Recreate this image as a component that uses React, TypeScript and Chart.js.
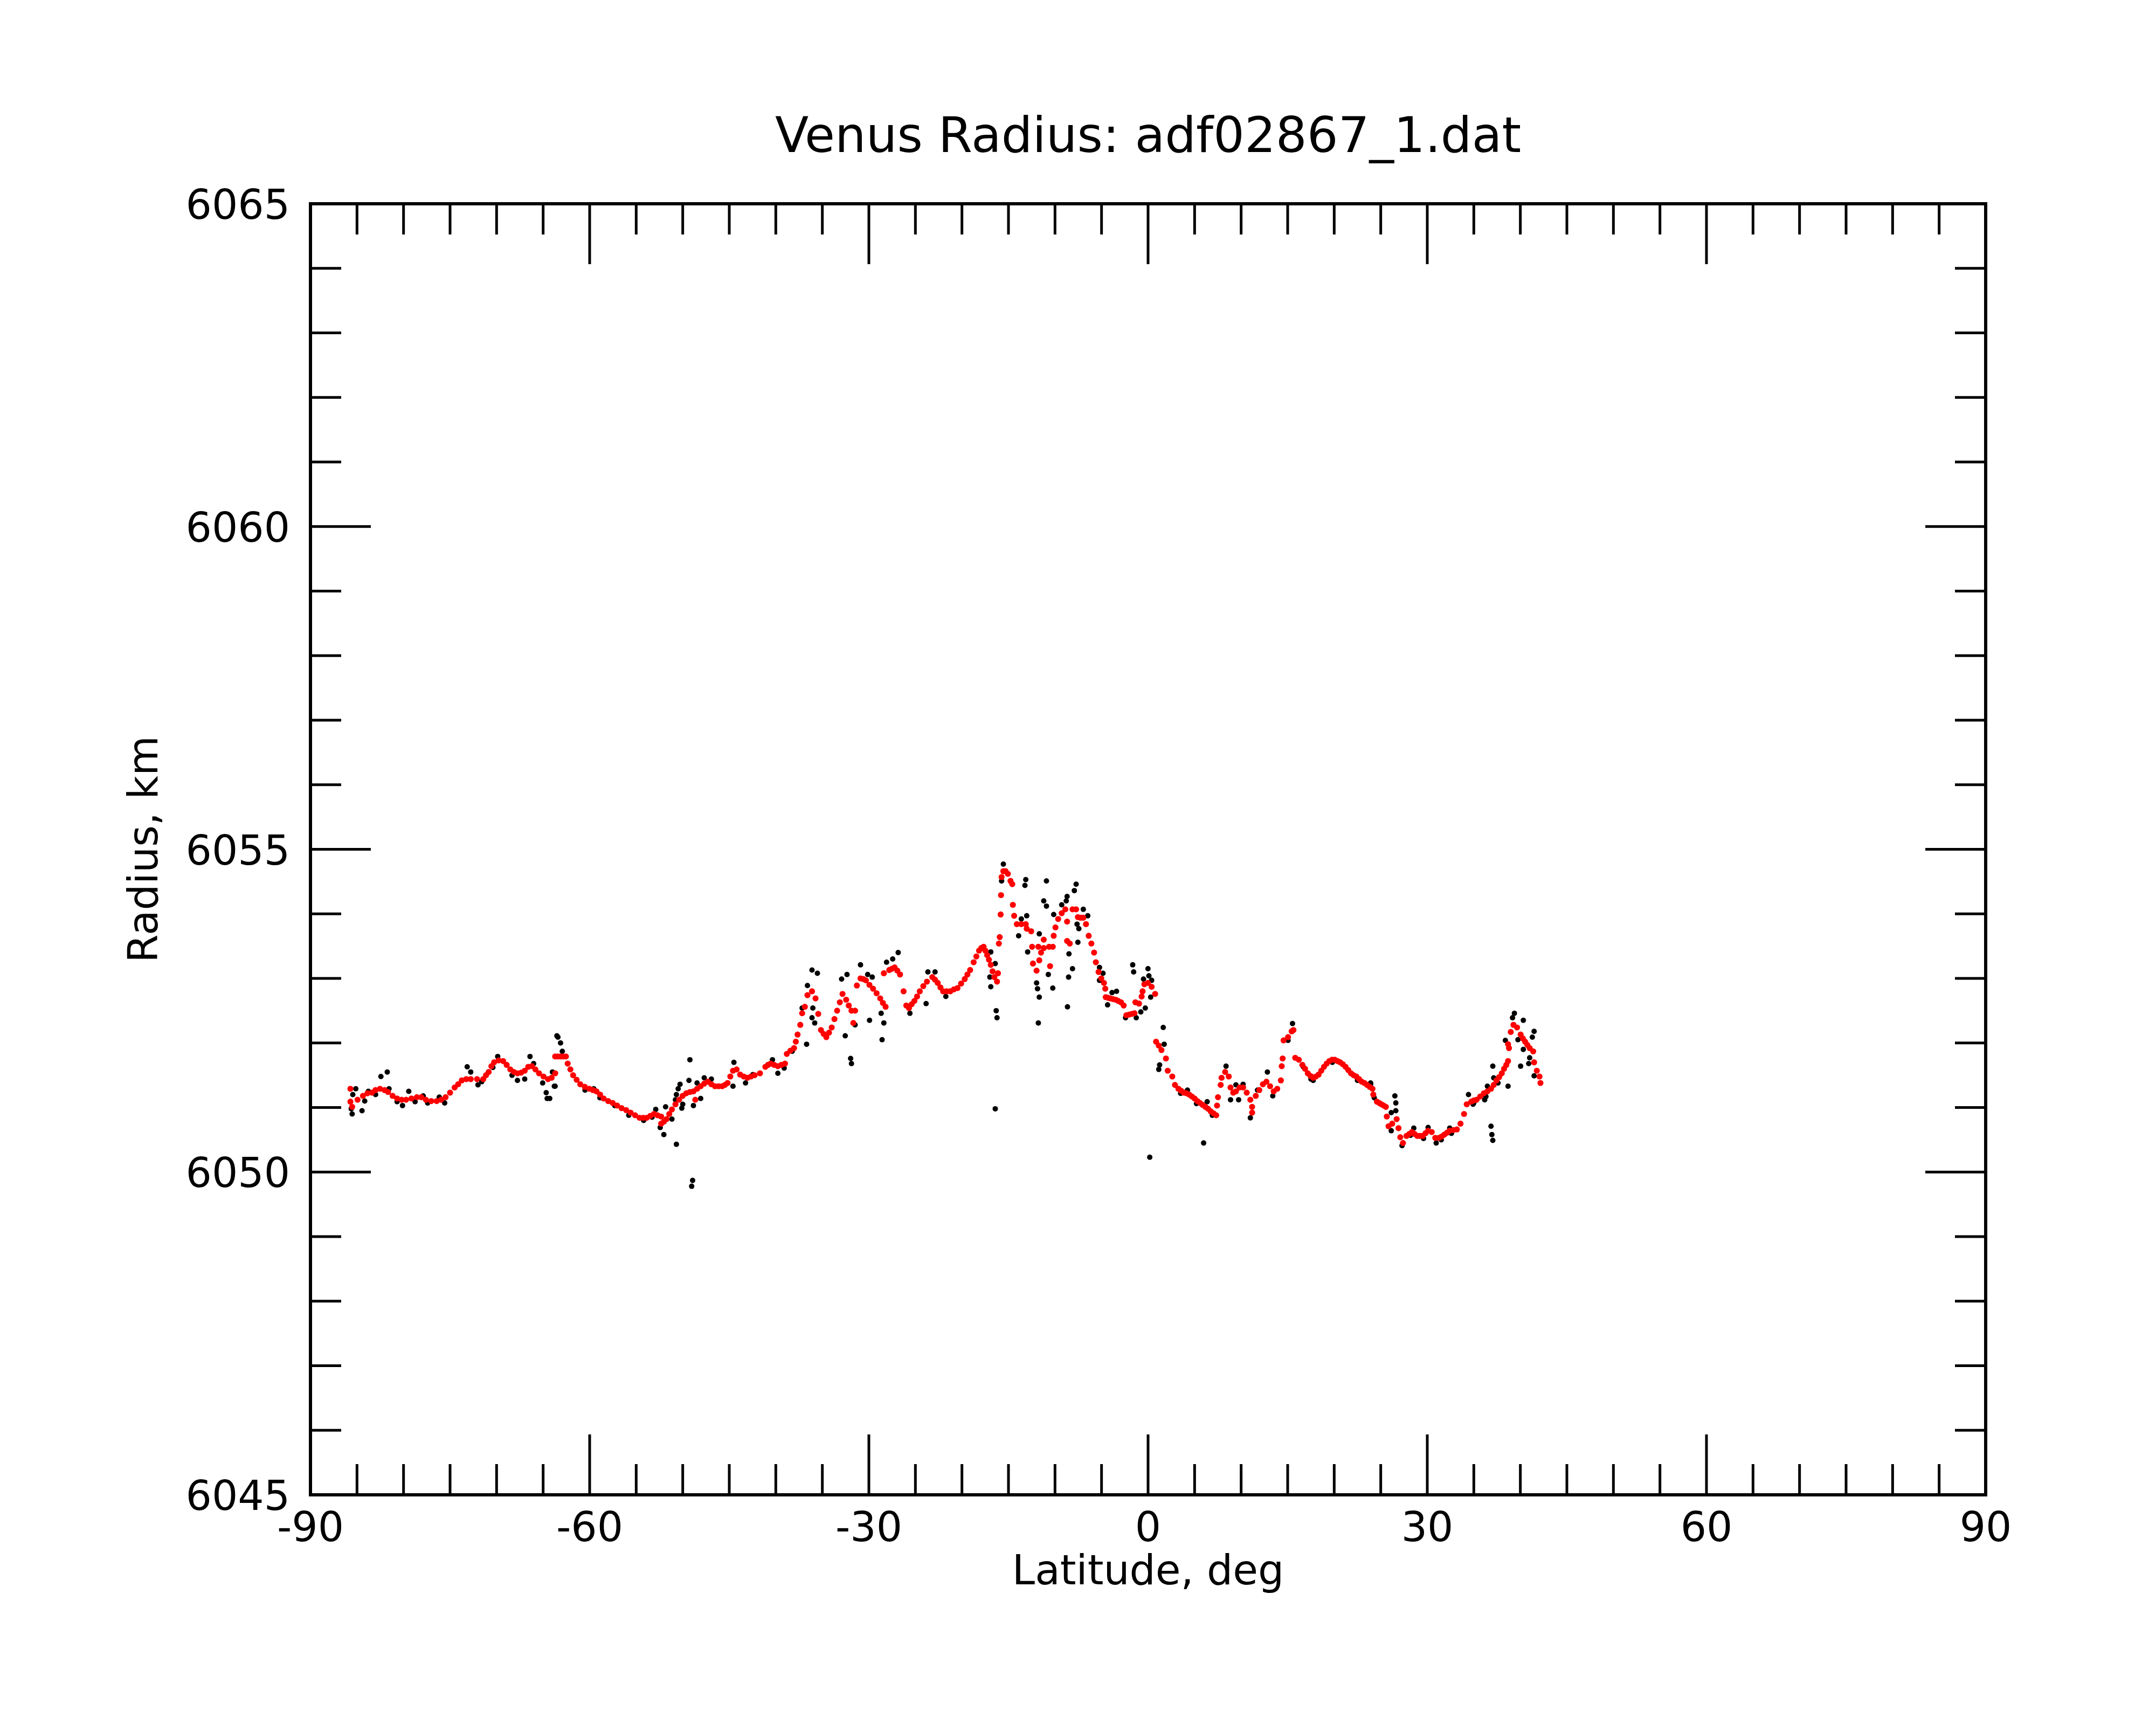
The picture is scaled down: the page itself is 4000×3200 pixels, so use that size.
import React, { useEffect, useRef } from "react";
import { Chart, registerables } from "chart.js";

Chart.register(...registerables);

// ---------- axis definitions ----------
const xMajorTicks = [-90, -60, -30, 0, 30, 60, 90];
const xTickLabels = ["-90", "-60", "-30", "0", "30", "60", "90"];
const yMajorTicks = [6045, 6050, 6055, 6060, 6065];
const yTickLabels = ["6045", "6050", "6055", "6060", "6065"];
const xMinorStep = 5;
const yMinorStep = 1;
const chartTitle = "Venus Radius: adf02867_1.dat";
const xTitle = "Latitude, deg";
const yTitle = "Radius, km";

// ---------- smoothed (red) radius profile: [latitude, radius] ----------
const smoothedSouth: [number, number][] = [
  [-85.71, 6051.29], [-85.71, 6051.09], [-85.52, 6051.01], [-84.94, 6051.12], [-84.36, 6051.18],
  [-83.88, 6051.22], [-83.39, 6051.23], [-83.01, 6051.27], [-82.53, 6051.29], [-82.04, 6051.27],
  [-81.66, 6051.24], [-81.17, 6051.18], [-80.69, 6051.14], [-80.21, 6051.12], [-79.73, 6051.12],
  [-79.15, 6051.14], [-78.57, 6051.16], [-78.09, 6051.16], [-77.6, 6051.12], [-77.02, 6051.1],
  [-76.44, 6051.1], [-75.96, 6051.12], [-75.48, 6051.16], [-75.0, 6051.23], [-74.51, 6051.31],
  [-74.13, 6051.36], [-73.74, 6051.42], [-73.26, 6051.44], [-72.78, 6051.44], [-72.1, 6051.44],
  [-71.43, 6051.44], [-71.14, 6051.5], [-70.85, 6051.55], [-70.56, 6051.64], [-70.27, 6051.7],
  [-69.78, 6051.73], [-69.3, 6051.72], [-68.92, 6051.66], [-68.53, 6051.59], [-68.14, 6051.55],
  [-67.76, 6051.53], [-67.37, 6051.54], [-66.98, 6051.57], [-66.6, 6051.63], [-66.21, 6051.64],
  [-65.83, 6051.59], [-65.44, 6051.53], [-64.96, 6051.48], [-64.48, 6051.44], [-64.09, 6051.46],
  [-63.7, 6051.53],
];

const smoothedMidSouth: [number, number][] = [
  [-63.71, 6051.79], [-63.42, 6051.79], [-63.13, 6051.79], [-62.84, 6051.79], [-62.55, 6051.79],
  [-62.36, 6051.68], [-62.07, 6051.59], [-61.78, 6051.5], [-61.4, 6051.43], [-61.01, 6051.36],
  [-60.52, 6051.32], [-60.04, 6051.29], [-59.65, 6051.27], [-59.27, 6051.25], [-58.88, 6051.2],
  [-58.5, 6051.14], [-58.01, 6051.1], [-57.53, 6051.07], [-57.05, 6051.03], [-56.57, 6050.99],
  [-56.08, 6050.96], [-55.6, 6050.92], [-55.12, 6050.88], [-54.64, 6050.84], [-54.25, 6050.84],
  [-53.87, 6050.84], [-53.48, 6050.87], [-53.09, 6050.9], [-52.71, 6050.88], [-52.32, 6050.86],
  [-52.32, 6050.75], [-52.03, 6050.78], [-51.74, 6050.82], [-51.45, 6050.9], [-51.16, 6050.97],
  [-50.78, 6051.05], [-50.39, 6051.12], [-50.01, 6051.18], [-49.62, 6051.22], [-49.23, 6051.24],
  [-48.85, 6051.25], [-48.65, 6051.12], [-48.46, 6051.29], [-48.07, 6051.33], [-47.69, 6051.37],
  [-47.3, 6051.4], [-46.92, 6051.36], [-46.53, 6051.33], [-46.15, 6051.33], [-45.76, 6051.33],
  [-45.47, 6051.35], [-45.18, 6051.38], [-44.89, 6051.48], [-44.6, 6051.57], [-44.21, 6051.59],
  [-43.83, 6051.51], [-43.44, 6051.48], [-43.05, 6051.46], [-42.67, 6051.48], [-42.28, 6051.5],
  [-41.7, 6051.53], [-41.12, 6051.63],
];

const smoothedTropicsSouth: [number, number][] = [
  [-40.84, 6051.66], [-40.55, 6051.68], [-40.17, 6051.66], [-39.78, 6051.64], [-39.4, 6051.66],
  [-39.01, 6051.68], [-38.82, 6051.83], [-38.43, 6051.88], [-38.04, 6051.92], [-37.85, 6052.02],
  [-37.66, 6052.13], [-37.37, 6052.28], [-37.17, 6052.46], [-36.88, 6052.56], [-36.6, 6052.74],
  [-36.11, 6052.8], [-35.73, 6052.69], [-35.44, 6052.45], [-35.15, 6052.2], [-34.86, 6052.14],
  [-34.57, 6052.09], [-34.28, 6052.16], [-33.99, 6052.24], [-33.7, 6052.37], [-33.41, 6052.5],
  [-33.12, 6052.63], [-32.83, 6052.76], [-32.44, 6052.67], [-32.16, 6052.58], [-31.87, 6052.5],
  [-31.67, 6052.31], [-31.48, 6052.5], [-31.29, 6052.89], [-30.9, 6053.0], [-30.61, 6052.99],
  [-30.32, 6052.97], [-29.94, 6052.9], [-29.55, 6052.84], [-29.17, 6052.77], [-28.78, 6052.69],
  [-28.49, 6052.62], [-28.2, 6052.56], [-28.39, 6053.08], [-27.81, 6053.13], [-27.52, 6053.15],
  [-27.23, 6053.17], [-26.94, 6053.12], [-26.65, 6053.06], [-26.27, 6052.8], [-25.98, 6052.58],
  [-25.69, 6052.54], [-25.4, 6052.6], [-25.11, 6052.65], [-24.82, 6052.72], [-24.53, 6052.8],
  [-24.15, 6052.88], [-23.76, 6052.95], [-23.18, 6053.02], [-22.89, 6052.98], [-22.6, 6052.93],
  [-22.31, 6052.86], [-22.02, 6052.8], [-21.64, 6052.8], [-21.25, 6052.8], [-20.87, 6052.83],
  [-20.48, 6052.85], [-20.09, 6052.92], [-19.7, 6052.99], [-19.41, 6053.06], [-19.12, 6053.13],
];

const smoothedEquator: [number, number][] = [
  [-18.74, 6053.25], [-18.45, 6053.34], [-18.16, 6053.43], [-17.92, 6053.47], [-17.67, 6053.49],
  [-17.48, 6053.43], [-17.29, 6053.36], [-17.1, 6053.29], [-16.9, 6053.21], [-16.71, 6053.11],
  [-16.52, 6053.02], [-16.23, 6052.95], [-16.13, 6053.08], [-16.03, 6053.54], [-15.94, 6053.64],
  [-15.84, 6053.99], [-15.8, 6054.29], [-15.74, 6054.57], [-15.55, 6054.66], [-15.31, 6054.66],
  [-15.07, 6054.62], [-14.78, 6054.51], [-14.59, 6054.46], [-14.53, 6054.14], [-14.39, 6053.97],
  [-14.1, 6053.84], [-13.62, 6053.84], [-13.14, 6053.84], [-13.04, 6053.77], [-12.56, 6053.73],
  [-12.46, 6053.49], [-11.79, 6053.49], [-11.21, 6053.6], [-11.21, 6053.47], [-11.5, 6053.4],
  [-11.69, 6053.28], [-12.37, 6053.23], [-11.98, 6053.12], [-10.63, 6053.49], [-10.53, 6053.19],
  [-10.24, 6053.49], [-10.14, 6053.66], [-9.95, 6053.79], [-9.66, 6053.92], [-9.28, 6054.01],
  [-8.89, 6054.07], [-8.7, 6053.88], [-8.7, 6053.58], [-8.41, 6053.54], [-8.12, 6054.07],
  [-7.73, 6054.07], [-7.54, 6053.95], [-7.25, 6053.94], [-6.96, 6053.94], [-6.67, 6053.84],
  [-6.38, 6053.66], [-6.09, 6053.54], [-5.8, 6053.4], [-5.61, 6053.25], [-5.32, 6053.1],
  [-5.03, 6053.0], [-4.74, 6052.93], [-4.6, 6052.84], [-4.55, 6052.71], [-4.3, 6052.7],
  [-4.06, 6052.69], [-3.77, 6052.68], [-3.48, 6052.67], [-3.2, 6052.65], [-2.91, 6052.63],
  [-2.62, 6052.58], [-2.33, 6052.43], [-2.04, 6052.44], [-1.75, 6052.45], [-1.46, 6052.46],
  [-1.36, 6052.63], [-0.97, 6052.61], [-0.69, 6052.72], [-0.59, 6052.8], [-0.4, 6052.91],
  [-0.01, 6052.93], [0.38, 6052.87], [0.76, 6052.76], [0.86, 6052.02], [1.15, 6051.96],
  [1.44, 6051.89], [1.92, 6051.76], [2.11, 6051.57], [2.6, 6051.48], [2.89, 6051.35],
];

const smoothedNorth: [number, number][] = [
  [3.26, 6051.29], [3.55, 6051.26], [3.84, 6051.23], [4.13, 6051.22], [4.42, 6051.2],
  [4.71, 6051.17], [5.0, 6051.14], [5.29, 6051.1], [5.58, 6051.07], [5.87, 6051.04],
  [6.16, 6051.01], [6.45, 6050.98], [6.74, 6050.94], [7.03, 6050.91], [7.32, 6050.88],
  [7.41, 6051.03], [7.51, 6051.16], [7.8, 6051.35], [7.9, 6051.46], [8.28, 6051.55],
  [8.67, 6051.48], [8.86, 6051.31], [9.15, 6051.23], [9.44, 6051.25], [9.83, 6051.31],
  [10.21, 6051.31], [10.6, 6051.23], [10.99, 6051.12], [11.18, 6051.01], [11.18, 6050.92],
  [11.57, 6051.18], [11.95, 6051.27], [12.34, 6051.36], [12.72, 6051.4], [13.11, 6051.33],
  [13.5, 6051.25], [13.88, 6051.29], [14.27, 6051.42], [14.36, 6051.64], [14.46, 6051.76],
  [14.56, 6052.04], [15.04, 6052.09], [15.43, 6052.18], [15.62, 6052.2], [15.81, 6051.77],
  [16.2, 6051.74], [16.58, 6051.66], [16.87, 6051.6], [17.16, 6051.53], [17.45, 6051.49],
  [17.74, 6051.46], [18.03, 6051.48], [18.32, 6051.51], [18.61, 6051.57], [18.9, 6051.63],
  [19.19, 6051.68], [19.48, 6051.72], [19.77, 6051.74], [20.06, 6051.74], [20.35, 6051.72],
  [20.64, 6051.7], [20.93, 6051.67], [21.22, 6051.63], [21.51, 6051.58], [21.8, 6051.53],
  [22.09, 6051.5], [22.38, 6051.48], [22.67, 6051.44], [22.96, 6051.4], [23.25, 6051.38],
  [23.53, 6051.35], [23.82, 6051.32], [24.11, 6051.29],
];

const smoothedFarNorth: [number, number][] = [
  [24.2, 6051.2], [24.59, 6051.09], [24.83, 6051.07], [25.07, 6051.05], [25.31, 6051.03],
  [25.55, 6051.01], [25.65, 6050.86], [25.84, 6050.71], [26.23, 6050.75], [26.71, 6050.82],
  [26.91, 6050.68], [27.1, 6050.54], [27.39, 6050.45], [27.77, 6050.56], [28.06, 6050.59],
  [28.35, 6050.62], [28.64, 6050.59], [28.93, 6050.56], [29.22, 6050.56], [29.51, 6050.56],
  [29.8, 6050.6], [30.09, 6050.64], [30.48, 6050.62], [30.86, 6050.53], [31.25, 6050.53],
  [31.54, 6050.55], [31.83, 6050.58], [32.12, 6050.61], [32.41, 6050.64], [32.8, 6050.65],
  [33.18, 6050.66], [33.57, 6050.75], [33.95, 6050.9], [34.24, 6051.05], [34.72, 6051.09],
  [35.01, 6051.11], [35.3, 6051.12], [35.69, 6051.17], [36.08, 6051.22], [36.46, 6051.25],
  [36.85, 6051.29], [37.14, 6051.35], [37.43, 6051.42], [37.72, 6051.47], [38.01, 6051.53],
  [38.25, 6051.6], [38.49, 6051.66], [38.68, 6051.72], [38.78, 6051.92], [38.68, 6051.98],
  [38.97, 6052.17], [39.26, 6052.28], [39.65, 6052.24], [40.03, 6052.13], [40.27, 6052.07],
  [40.51, 6052.02], [40.75, 6051.97], [41.0, 6051.92], [41.38, 6051.87], [41.48, 6051.7],
  [41.77, 6051.57], [42.06, 6051.48], [42.16, 6051.38],
];

// ---------- raw (black) radius samples: [latitude, radius] ----------
const rawSouth: [number, number][] = [
  [-85.52, 6050.9], [-85.13, 6051.29], [-84.46, 6050.95], [-84.17, 6051.1], [-83.78, 6051.25],
  [-82.43, 6051.48], [-81.75, 6051.55], [-81.56, 6051.29], [-80.69, 6051.09], [-80.11, 6051.03],
  [-79.44, 6051.25], [-78.76, 6051.09], [-77.89, 6051.18], [-77.41, 6051.07], [-76.16, 6051.16],
  [-75.58, 6051.07], [-73.16, 6051.63], [-72.78, 6051.55], [-72.0, 6051.35], [-69.88, 6051.79],
  [-68.34, 6051.5], [-67.76, 6051.42], [-66.98, 6051.44], [-66.41, 6051.79], [-66.02, 6051.68],
  [-65.05, 6051.38], [-64.67, 6051.23], [-64.57, 6051.14], [-63.8, 6051.33], [-63.41, 6052.09],
  [-85.62, 6050.98], [-85.45, 6051.2], [-83.0, 6051.2], [-71.6, 6051.4], [-70.4, 6051.62],
];

const rawMidSouth: [number, number][] = [
  [-63.52, 6052.11], [-63.13, 6052.0], [-62.94, 6051.87], [-64.0, 6051.55], [-63.71, 6051.33],
  [-64.29, 6051.14], [-49.23, 6051.74], [-49.33, 6051.42], [-50.29, 6051.36], [-50.49, 6051.29],
  [-50.68, 6051.2], [-50.78, 6051.12], [-50.0, 6051.05], [-50.1, 6050.99], [-51.84, 6051.01],
  [-51.16, 6050.82], [-52.42, 6050.69], [-52.03, 6050.58], [-50.68, 6050.43], [-48.94, 6049.87],
  [-49.04, 6049.78], [-48.85, 6051.03], [-48.46, 6051.38], [-47.69, 6051.46], [-46.92, 6051.44],
  [-44.5, 6051.7], [-44.6, 6051.33], [-43.25, 6051.38], [-42.47, 6051.51], [-48.07, 6051.14],
  [-52.9, 6050.97], [-59.56, 6051.29], [-61.01, 6051.36], [-60.5, 6051.27], [-58.9, 6051.15],
  [-57.3, 6051.03], [-55.8, 6050.88], [-54.2, 6050.8], [-53.3, 6050.85],
];

const rawTropicsSouth: [number, number][] = [
  [-36.11, 6053.13], [-35.53, 6053.08], [-36.6, 6052.89], [-36.02, 6052.54], [-36.11, 6052.39],
  [-35.82, 6052.31], [-36.69, 6051.98], [-32.93, 6052.99], [-32.35, 6053.06], [-32.54, 6052.11],
  [-31.96, 6051.76], [-31.87, 6051.68], [-30.9, 6053.21], [-30.13, 6053.06], [-29.64, 6053.02],
  [-29.93, 6052.35], [-28.39, 6052.31], [-28.58, 6052.05], [-28.68, 6052.46], [-26.85, 6053.4],
  [-27.44, 6053.3], [-28.1, 6053.25], [-25.59, 6052.46], [-23.85, 6052.61], [-23.66, 6053.1],
  [-22.89, 6053.1], [-21.73, 6052.72], [-39.78, 6051.53], [-39.1, 6051.61], [-40.36, 6051.74],
  [-38.24, 6051.87], [-37.17, 6052.54], [-31.48, 6052.28],
];

const rawEquator: [number, number][] = [
  [-15.55, 6054.77], [-13.14, 6054.53], [-13.23, 6054.44], [-10.92, 6054.51], [-11.21, 6054.2],
  [-10.92, 6054.12], [-13.04, 6053.97], [-13.62, 6053.92], [-13.91, 6053.66], [-11.69, 6053.69],
  [-12.94, 6053.41], [-11.98, 6052.93], [-11.88, 6052.84], [-11.69, 6052.71], [-11.79, 6052.31],
  [-10.24, 6052.85], [-10.72, 6053.06], [-10.14, 6053.99], [-8.7, 6054.27], [-8.79, 6054.2],
  [-7.73, 6054.46], [-7.92, 6054.36], [-6.96, 6054.07], [-6.48, 6053.97], [-7.63, 6053.84],
  [-7.44, 6053.77], [-7.54, 6053.56], [-8.5, 6053.38], [-8.12, 6053.15], [-8.54, 6053.02],
  [-8.66, 6052.56], [-16.9, 6053.41], [-16.42, 6053.23], [-17.0, 6053.02], [-16.9, 6052.87],
  [-16.32, 6052.5], [-16.23, 6052.39], [-16.42, 6050.98], [-15.74, 6054.51], [-9.28, 6054.14],
  [-5.22, 6053.17], [-4.84, 6053.08], [-5.22, 6052.97], [-3.87, 6052.78], [-3.39, 6052.8],
  [-4.35, 6052.59], [-1.65, 6053.21], [-1.55, 6053.1], [-0.01, 6053.15], [0.09, 6053.04],
  [-0.49, 6052.99], [0.38, 6052.97], [0.28, 6052.71], [-0.3, 6052.54], [-0.78, 6052.48],
  [-1.27, 6052.39], [-2.42, 6052.39], [0.18, 6050.23], [1.63, 6052.24], [1.73, 6051.98],
  [1.24, 6051.66], [1.15, 6051.59],
];

const rawNorth: [number, number][] = [
  [5.97, 6050.45], [8.38, 6051.64], [9.44, 6051.35], [10.21, 6051.36], [8.86, 6051.12],
  [9.73, 6051.12], [10.99, 6050.84], [12.82, 6051.55], [13.4, 6051.18], [15.52, 6052.3],
  [15.04, 6052.04], [11.76, 6051.27], [4.23, 6051.27], [6.35, 6051.09], [16.68, 6051.63],
  [17.74, 6051.42], [23.92, 6051.36], [3.5, 6051.22], [5.2, 6051.06], [6.9, 6050.88],
  [17.5, 6051.44], [19.8, 6051.7], [22.5, 6051.42], [24.3, 6051.15],
];

const rawFarNorth: [number, number][] = [
  [23.91, 6051.38], [26.52, 6051.18], [26.62, 6051.07], [26.62, 6050.95], [26.13, 6050.64],
  [27.29, 6050.41], [28.55, 6050.68], [30.09, 6050.69], [30.96, 6050.45], [32.41, 6050.68],
  [34.43, 6051.2], [34.92, 6051.05], [36.17, 6051.12], [36.46, 6051.33], [37.04, 6051.64],
  [37.14, 6051.46], [36.85, 6050.71], [36.94, 6050.58], [37.04, 6050.49], [38.68, 6051.33],
  [38.39, 6052.04], [39.36, 6052.46], [39.16, 6052.39], [40.32, 6052.35], [39.74, 6052.05],
  [41.48, 6052.18], [41.29, 6052.09], [40.32, 6051.9], [41.0, 6051.77], [40.9, 6051.68],
  [40.03, 6051.64], [41.48, 6051.49], [26.13, 6050.92], [28.2, 6050.57], [29.6, 6050.52],
  [31.5, 6050.5], [32.6, 6050.6], [35.0, 6051.07], [36.3, 6051.17], [37.6, 6051.38],
];

// ---------- layout (pixels on the 4000 x 3200 canvas) ----------
const CANVAS_W = 4000;
const CANVAS_H = 3200;
const PLOT_LEFT = 576;
const PLOT_RIGHT = 3684;
const PLOT_TOP = 378;
const PLOT_BOTTOM = 2773;
const FONT = '"DejaVu Sans", "Liberation Sans", sans-serif';

const toPoints = (groups: [number, number][][]) =>
  groups.flat().map(([x, y]) => ({ x, y }));

const framePlugin = {
  id: "idlFrame",
  afterDatasetsDraw(chart: any) {
    const { ctx, chartArea, scales } = chart;
    const { left, right, top, bottom } = chartArea;
    const xs = scales.x;
    const ys = scales.y;
    ctx.save();
    ctx.strokeStyle = "#000";
    ctx.fillStyle = "#000";
    ctx.lineCap = "butt";

    const line = (x1: number, y1: number, x2: number, y2: number) => {
      ctx.beginPath();
      ctx.moveTo(x1, y1);
      ctx.lineTo(x2, y2);
      ctx.stroke();
    };

    // ticks
    ctx.lineWidth = 5;
    const majorLen = 112;
    const minorLen = 57;
    const xMin = xMajorTicks[0];
    const xMax = xMajorTicks[xMajorTicks.length - 1];
    for (let v = xMin; v <= xMax + 1e-9; v += xMinorStep) {
      const px = xs.getPixelForValue(v);
      const len = xMajorTicks.includes(v) ? majorLen : minorLen;
      line(px, bottom, px, bottom - len);
      line(px, top, px, top + len);
    }
    const yMin = yMajorTicks[0];
    const yMax = yMajorTicks[yMajorTicks.length - 1];
    for (let v = yMin; v <= yMax + 1e-9; v += yMinorStep) {
      const py = ys.getPixelForValue(v);
      const len = yMajorTicks.includes(v) ? majorLen : minorLen;
      line(left, py, left + len, py);
      line(right, py, right - len, py);
    }

    // frame
    ctx.lineWidth = 6;
    ctx.strokeRect(left, top, right - left, bottom - top);

    // tick labels
    ctx.font = `76px ${FONT}`;
    ctx.textBaseline = "alphabetic";
    ctx.textAlign = "center";
    xMajorTicks.forEach((v, i) => {
      ctx.fillText(xTickLabels[i], xs.getPixelForValue(v), bottom + 86);
    });
    ctx.textAlign = "right";
    yMajorTicks.forEach((v, i) => {
      ctx.fillText(yTickLabels[i], left - 38, ys.getPixelForValue(v) + 28);
    });

    // axis titles
    ctx.textAlign = "center";
    ctx.font = `76px ${FONT}`;
    ctx.fillText(xTitle, (left + right) / 2, bottom + 166);
    ctx.save();
    ctx.translate(292, (top + bottom) / 2);
    ctx.rotate(-Math.PI / 2);
    ctx.fillText(yTitle, 0, 0);
    ctx.restore();

    // title
    ctx.font = `91px ${FONT}`;
    ctx.fillText(chartTitle, (left + right) / 2, 282);

    ctx.restore();
  },
};

export default function App() {
  const canvasRef = useRef<HTMLCanvasElement | null>(null);

  useEffect(() => {
    if (!canvasRef.current) return;
    const chart = new Chart(canvasRef.current, {
      type: "scatter",
      data: {
        datasets: [
          {
            label: "smoothed",
            data: toPoints([
              smoothedSouth,
              smoothedMidSouth,
              smoothedTropicsSouth,
              smoothedEquator,
              smoothedNorth,
              smoothedFarNorth,
            ]),
            backgroundColor: "#ff0000",
            borderColor: "#ff0000",
            borderWidth: 0,
            pointRadius: 5.6,
            pointHoverRadius: 5.6,
          },
          {
            label: "raw",
            data: toPoints([rawSouth, rawMidSouth, rawTropicsSouth, rawEquator, rawNorth, rawFarNorth]),
            backgroundColor: "#000000",
            borderColor: "#000000",
            borderWidth: 0,
            pointRadius: 5,
            pointHoverRadius: 5,
          },
        ],
      },
      options: {
        animation: false,
        responsive: false,
        maintainAspectRatio: false,
        devicePixelRatio: 1,
        events: [],
        layout: {
          padding: {
            left: PLOT_LEFT,
            right: CANVAS_W - PLOT_RIGHT,
            top: PLOT_TOP,
            bottom: CANVAS_H - PLOT_BOTTOM,
          },
        },
        plugins: {
          legend: { display: false },
          tooltip: { enabled: false },
          title: { display: false },
        },
        scales: {
          x: {
            type: "linear",
            min: xMajorTicks[0],
            max: xMajorTicks[xMajorTicks.length - 1],
            display: false,
          },
          y: {
            type: "linear",
            min: yMajorTicks[0],
            max: yMajorTicks[yMajorTicks.length - 1],
            display: false,
          },
        },
      },
      plugins: [framePlugin],
    });
    return () => chart.destroy();
  }, []);

  return (
    <div
      style={{
        position: "absolute",
        left: 0,
        top: 0,
        width: CANVAS_W,
        height: CANVAS_H,
        background: "#ffffff",
      }}
    >
      <canvas
        ref={canvasRef}
        width={CANVAS_W}
        height={CANVAS_H}
        style={{ width: CANVAS_W, height: CANVAS_H, display: "block" }}
      />
    </div>
  );
}
